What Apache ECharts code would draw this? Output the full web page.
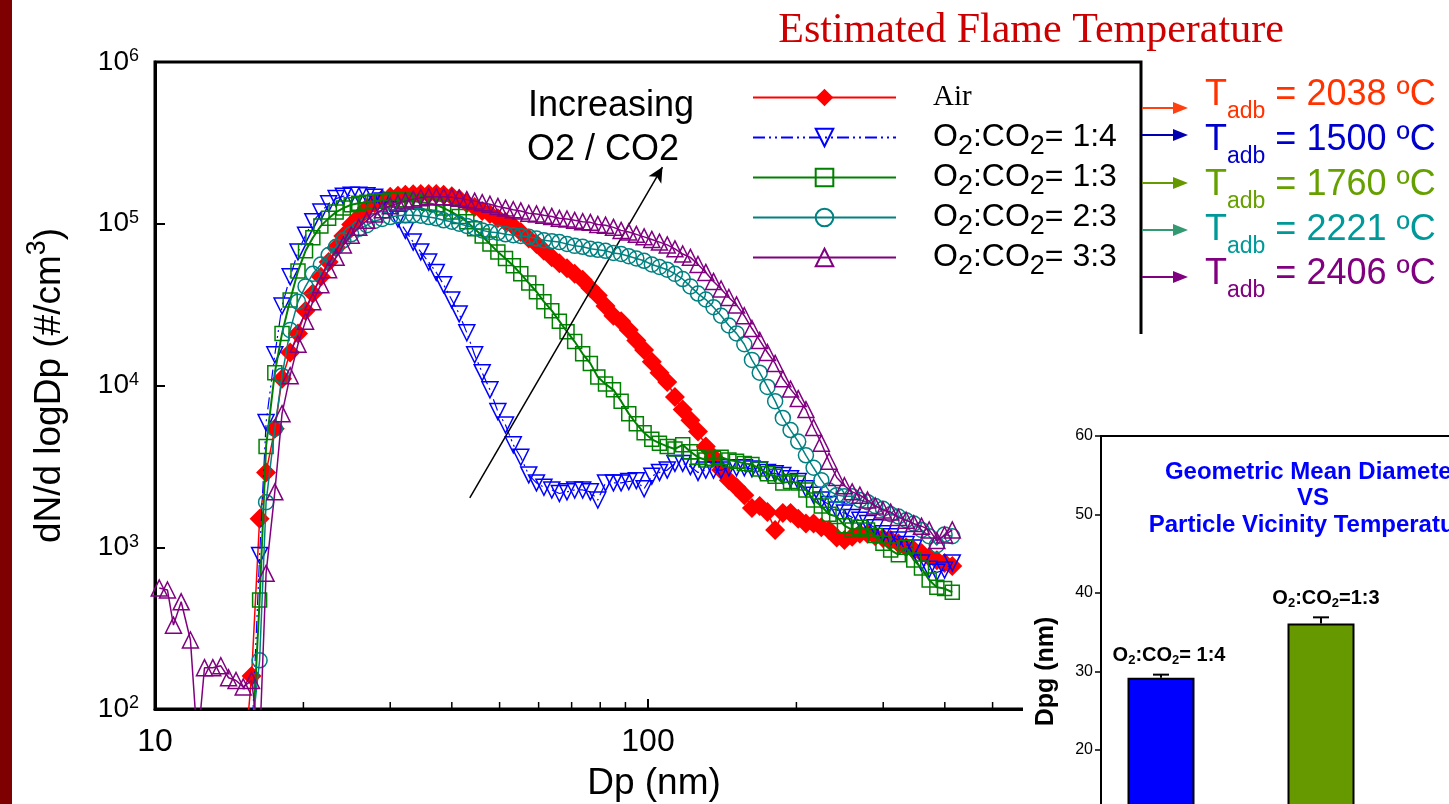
<!DOCTYPE html>
<html><head><meta charset="utf-8">
<script src="https://cdn.jsdelivr.net/npm/echarts@6/dist/echarts.min.js"></script>
<style>html,body{margin:0;padding:0;background:#fff}#c{width:1449px;height:804px}</style>
</head><body><div id="c"></div>
<script>
// Particle diameter channels (nm)
const DP = [10.2,10.6,10.9,11.3,11.8,12.2,12.6,13.1,13.6,14.1,14.6,15.1,15.7,16.3,16.8,17.5,18.1,18.8,19.5,20.2,
  20.9,21.7,22.5,23.3,24.1,25.0,25.9,26.9,27.9,28.9,30.0,31.1,32.2,33.4,34.6,35.9,37.2,38.5,40.0,41.4,
  42.9,44.5,46.1,47.8,49.6,51.4,53.3,55.2,57.3,59.4,61.5,63.8,66.1,68.5,71.0,73.7,76.4,79.1,82.0,85.1,
  88.2,91.4,94.7,98.2,101.8,105.5,109.4,113.4,117.6,121.9,126.3,131.0,135.8,140.7,145.9,151.2,156.8,162.5,168.5,174.7,
  181.1,187.7,194.6,201.7,209.1,216.7,224.7,232.9,241.4,250.3,259.5,269.0,278.8,289.0,299.6,310.6,322.0,333.8,346.0,358.7,
  371.8,385.4,399.5,414.2];
const SERIES_NAMES = ['Air','O2:CO2= 1:4','O2:CO2= 1:3','O2:CO2= 2:3','O2:CO2= 3:3'];
const AIR = [null,null,null,null,null,null,null,null,null,null,null,40,160,1500,2900,5400,11000,16000,21000,29000,
  37000,47000,58000,71000,84000,99000,110000,125000,134000,142000,147000,149000,151000,152000,153000,153000,153000,151000,148000,142000,
  134000,127000,120000,115000,108000,103000,97000,89000,81000,75000,68000,62000,57000,53000,49000,45000,40000,36000,31000,27000,
  25000,22000,19000,16600,14000,12000,10500,8500,7100,6100,5200,4200,3600,3000,2600,2350,2100,1750,1800,1650,
  1280,1630,1630,1500,1400,1400,1330,1280,1150,1110,1160,1210,1210,1170,1140,1110,1060,1000,960,920,
  870,830,800,765];
const R14 = [null,null,null,null,null,null,null,null,null,null,null,null,60,890,5900,15500,31000,47000,67000,85000,
  103000,118000,133000,143000,148000,150000,150000,149000,146000,138000,122000,107000,91000,77000,67000,58000,50000,42000,33800,27700,
  21200,15500,12000,9400,6900,5700,4300,3600,2800,2500,2350,2260,2150,2200,2260,2260,2200,1960,2500,2500,
  2500,2550,2580,2300,2750,2900,3000,3300,3300,3150,2900,3000,3000,3000,3100,3100,3100,3050,3000,2900,
  2850,2780,2650,2550,2300,2100,1960,1840,1700,1630,1530,1470,1400,1320,1210,1160,1110,1040,990,800,
  730,700,723,800];
const R13 = [null,null,null,null,null,null,null,null,null,null,null,null,50,472,4200,12000,21000,33800,51000,68000,
  82000,97000,108000,118000,125000,131000,134000,136000,138000,138000,140000,140000,140000,138000,136000,134000,131000,125000,118000,111000,
  103000,93000,84000,75000,67000,61000,55000,49000,43000,38000,33000,29000,25000,21500,18700,15700,13700,11300,10200,9400,
  8000,6700,5800,5100,4650,4400,4200,4050,4300,3900,3600,3460,3550,3600,3460,3400,3300,3250,3050,2850,
  2750,2500,2550,2500,2260,1960,1800,1600,1550,1360,1280,1330,1280,1180,1060,960,900,1000,834,743,
  627,565,555,527];
const R23 = [null,null,null,null,null,null,null,null,null,null,null,null,70,200,1900,5400,11500,22000,33000,41000,
  49000,56000,64000,72000,79000,86000,93000,98000,104000,107000,110000,112000,113000,113000,112000,110000,108000,105000,103000,100000,
  97000,94000,91000,89000,88000,86000,85000,84000,83000,81000,79000,78000,77000,75000,73000,72000,70000,69000,68000,66000,
  65000,63000,61000,59000,56000,54000,52000,49000,45500,41000,37000,34000,30500,27000,23500,21000,18000,14400,12000,9800,
  8000,6300,5300,4500,3700,3100,2600,2240,2100,2070,2070,1960,1900,1800,1730,1600,1550,1470,1400,1280,
  1170,1030,1200,1170];
const R33 = [560,544,330,460,267,60,180,180,185,156,150,137,150,60,690,2200,6700,11500,18000,25000,
  33000,42000,52000,62000,74000,85000,95000,105000,115000,122000,129000,134000,138000,142000,145000,147000,147000,147000,146000,144000,
  141000,138000,135000,132000,128000,125000,122000,120000,116000,115000,113000,111000,108000,107000,105000,103000,102000,99000,98000,95000,
  91000,89000,86000,83000,80000,77000,74000,70000,65000,62000,56000,50000,44000,39500,35000,31500,27000,22500,19000,16000,
  13700,11000,9500,8300,7100,5500,4400,3400,2700,2400,2200,2100,1960,1800,1700,1650,1530,1470,1400,1350,
  1280,1100,1190,1280];
const X_MINOR_TICKS = [20,30,40,50,60,70,80,90,200,300,400,500,600,700,800,900];
const ARROW_FROM = [43.5, 2020];
const ARROW_TO = [107, 224000];
const T_ADB = ['2038','1500','1760','2221','2406'];
// Inset: geometric mean diameter
const INSET_LABELS = ['O2:CO2= 1:4','O2:CO2=1:3'];
const INSET_POS = [1, 2];
const INSET_DPG = [29.2, 36.1];
const INSET_ERR = [0.4, 0.8];

const SANS = "'Liberation Sans', Arial, sans-serif";
const SERIF = "'Liberation Serif', 'Times New Roman', serif";
const COLORS = ['#ff0000','#0000ff','#008000','#008080','#800080'];
const T_COLORS = ['#ff3300','#0000cc','#66a000','#009999','#800080'];
const A_COLORS = ['#ff4010','#0000b0','#669900','#339970','#800080'];
const SYMBOLS = ['diamond','triangle','rect','circle','triangle'];
const SIZES = [20,16,14,15,16];
const ROT = [0,180,0,0,0];
const LW = [1.5,1.2,2,1.5,1.5];
const ALL = [AIR,R14,R13,R23,R33];

const chart = echarts.init(document.getElementById('c'), null, {renderer:'canvas'});

const lineSeries = ALL.map((arr, k) => ({
  type:'line', name: SERIES_NAMES[k], xAxisIndex:0, yAxisIndex:0,
  data: DP.map((d,i)=>[d, arr[i]]).filter(p=>p[1]!=null),
  symbol: SYMBOLS[k], symbolSize: SIZES[k], symbolRotate: ROT[k], showAllSymbol:true,
  clip:true, z: 2 + k,
  lineStyle:{color: COLORS[k], width: LW[k], type: k===1 ? [12,4,2,4,2,4] : 'solid'},
  itemStyle: k===0 ? {color: COLORS[0], borderColor: COLORS[0], borderWidth:0}
                   : {color:'rgba(255,255,255,0)', borderColor: COLORS[k], borderWidth:1.5},
  emphasis:{disabled:true}, silent:true
}));
lineSeries[4].markLine = {
  silent:true, symbol:['none','arrow'], symbolSize:[11,15], animation:false,
  label:{show:false}, lineStyle:{color:'#000', width:1.5, type:'solid'},
  emphasis:{disabled:true},
  data:[[{coord:ARROW_FROM},{coord:ARROW_TO}]]
};

const legendFmt = name => name === 'Air' ? '{air|Air}{s| }' :
  '{o|O}{s|2}{o|:CO}{s|2}{o|=' + name.split('=')[1] + '}';

const graphics = [
  {type:'rect', shape:{x:0,y:0,width:12,height:804}, style:{fill:'#7f0000'}, z:1},
  {type:'text', x:1031, y:31, z:1, style:{text:'Estimated Flame Temperature', fontFamily:SERIF, fontSize:42,
    fill:'#cc0000', align:'center', verticalAlign:'middle'}},
  {type:'text', x:528, y:106, z:1, style:{text:'Increasing', fontFamily:SANS, fontSize:36, fill:'#000', align:'left', verticalAlign:'middle'}},
  {type:'text', x:527, y:150, z:1, style:{text:'O2 / CO2', fontFamily:SANS, fontSize:36, fill:'#000', align:'left', verticalAlign:'middle'}},
  {type:'rect', shape:{x:1023,y:334,width:430,height:480}, style:{fill:'#fff'}, z:5},
  {type:'text', x:1313, y:459, z:20, style:{text:'Geometric Mean Diameter\nVS\nParticle Vicinity Temperature',
    fontFamily:SANS, fontSize:24, fontWeight:'bold', fill:'#0000ff', align:'center', verticalAlign:'top', lineHeight:26.5}}
];
const ARROW_Y = [108,135,183,230,277];
const TEXT_Y = [95,140,185,230,274];
T_ADB.forEach((t,i)=>{
  const y = ARROW_Y[i];
  graphics.push({type:'line', shape:{x1:1142,y1:y,x2:1176,y2:y}, style:{stroke:A_COLORS[i], lineWidth:2}, z:1});
  graphics.push({type:'polygon', shape:{points:[[1173,y-6],[1188,y],[1173,y+6]]}, style:{fill:A_COLORS[i]}, z:1});
  graphics.push({type:'text', x:1205, y:TEXT_Y[i], z:1, style:{
    text:'{t|T}{s|adb}{t| = ' + t + ' ºC}', fill:T_COLORS[i], fontFamily:SANS, align:'left', verticalAlign:'middle',
    rich:{t:{fontSize:36, fontFamily:SANS, lineHeight:40}, s:{fontSize:23, fontFamily:SANS, padding:[34,0,0,0], lineHeight:40}}
  }});
});

const option = {
  animation:false,
  backgroundColor:'#fff',
  graphic: graphics,
  grid:[
    {left:155, top:62, width:986, height:647, show:true, borderColor:'#000', borderWidth:3, containLabel:false, outerBoundsMode:'none'},
    {left:1101, top:436, width:400, height:471, show:true, borderColor:'#000', borderWidth:2, z:10, containLabel:false, outerBoundsMode:'none'}
  ],
  legend:{
    orient:'vertical', left:747, top:70, itemWidth:143, itemHeight:22, itemGap:-5,
    data: SERIES_NAMES, formatter: legendFmt, selectedMode:false,
    textStyle:{padding:[0,0,0,32], color:'#000',
      rich:{air:{fontFamily:SERIF, fontSize:29, lineHeight:30},
            o:{fontFamily:SANS, fontSize:32, lineHeight:30},
            s:{fontFamily:SANS, fontSize:27, lineHeight:30, padding:[18,0,0,0]}}}
  },
  xAxis:[
    {type:'log', logBase:10, min:10, max:1000, gridIndex:0,
     axisLine:{lineStyle:{color:'#000', width:3}},
     axisTick:{inside:true, length:10, lineStyle:{color:'#000', width:2}},
     minorTick:{show:false}, splitLine:{show:false},
     axisLabel:{fontSize:32, fontFamily:SANS, color:'#000', margin:17},
     name:'Dp (nm)', nameLocation:'middle', nameGap:56,
     nameTextStyle:{fontSize:37, fontFamily:SANS, color:'#000', padding:[0,0,0,12]}},
    {type:'value', gridIndex:1, min:0.625, max:3.125, show:false}
  ],
  yAxis:[
    {type:'log', logBase:10, min:100, max:1000000, gridIndex:0,
     axisLine:{lineStyle:{color:'#000', width:3}},
     axisTick:{inside:true, length:10, lineStyle:{color:'#000', width:2}},
     splitLine:{show:false},
     axisLabel:{margin:16, color:'#000',
       formatter: v => '{b|10}{e|' + Math.round(Math.log10(v)) + '}',
       rich:{b:{fontSize:28, fontFamily:SANS, lineHeight:30}, e:{fontSize:18, fontFamily:SANS, lineHeight:30, padding:[0,0,11,0]}}},
     name:'dN/d logDp (#/cm{sup|3})', nameLocation:'middle', nameGap:86,
     nameTextStyle:{fontSize:37, fontFamily:SANS, color:'#000',
       rich:{sup:{fontSize:27, fontFamily:SANS, lineHeight:38, padding:[0,0,24,0]}}}},
    {type:'value', gridIndex:1, min:0, max:60, interval:10, z:15,
     axisLine:{show:true, lineStyle:{color:'#000', width:2}},
     axisTick:{show:true, inside:false, length:6, lineStyle:{color:'#000', width:1.5}},
     splitLine:{show:false},
     axisLabel:{fontSize:16, fontFamily:SANS, color:'#000', margin:8},
     name:'Dpg (nm)', nameLocation:'middle', nameGap:42,
     nameTextStyle:{fontSize:25, fontWeight:'bold', fontFamily:SANS, color:'#000'}}
  ],
  series:[
    ...lineSeries,
    {type:'custom', xAxisIndex:0, yAxisIndex:0, silent:true, z:1, clip:false,
     data: X_MINOR_TICKS.map(v=>[v, 100]),
     renderItem:(params, api)=>{
       const p = api.coord([api.value(0), api.value(1)]);
       return {type:'line', shape:{x1:p[0], y1:p[1], x2:p[0], y2:p[1]-7}, style:{stroke:'#000', lineWidth:1.5}};
     }},
    {type:'bar', xAxisIndex:1, yAxisIndex:1, z:12, barWidth:67, silent:true,
     data: INSET_POS.map((x,i)=>({
       value:[x, INSET_DPG[i]],
       itemStyle:{color: i===0 ? '#0000ff' : '#669900', borderColor:'#000', borderWidth:2},
       label:{show:true, position:'top', distance: i===0 ? 10 : 13, offset: i===0 ? [8,0] : [5,0],
         formatter: () => '{a|O}{s|2}{a|:CO}{s|2}{a|' + INSET_LABELS[i].split('CO2')[1] + '}',
         rich:{a:{fontSize:20, fontWeight:'bold', fontFamily:SANS, color:'#000', lineHeight:24},
               s:{fontSize:13, fontWeight:'bold', fontFamily:SANS, color:'#000', lineHeight:24, padding:[10,0,0,0]}}}
     }))},
    {type:'custom', xAxisIndex:1, yAxisIndex:1, z:13, silent:true, clip:false,
     data: INSET_POS.map((x,i)=>[x, INSET_DPG[i], INSET_ERR[i]]),
     renderItem:(params, api)=>{
       const x = api.value(0), v = api.value(1), e = api.value(2);
       const b = api.coord([x, v]), t = api.coord([x, v+e]);
       return {type:'group', children:[
         {type:'line', shape:{x1:b[0], y1:b[1], x2:t[0], y2:t[1]}, style:{stroke:'#000', lineWidth:2}},
         {type:'line', shape:{x1:t[0]-8, y1:t[1], x2:t[0]+8, y2:t[1]}, style:{stroke:'#000', lineWidth:2}}
       ]};
     }}
  ]
};
chart.setOption(option);
</script></body></html>
